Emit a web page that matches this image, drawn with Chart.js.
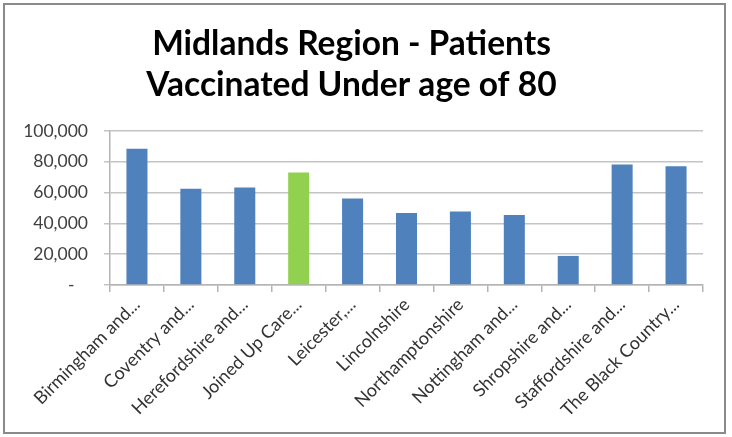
<!DOCTYPE html>
<html>
<head>
<meta charset="utf-8">
<script src="https://cdn.jsdelivr.net/npm/chart.js@4/dist/chart.umd.min.js"></script>
<style>
  body { margin: 0; background: #fff; }
  #wrap { position: relative; width: 732px; height: 437px; }
  #frame { position: absolute; left: 3px; top: 3px; width: 719px; height: 427px;
           border: 2px solid #8a8a8a; pointer-events: none; }
</style>
</head>
<body>
<div id="wrap">
  <canvas id="chart" width="732" height="437"></canvas>
  <div id="frame"></div>
</div>
<script>
const categories = [
    'Birmingham and...', 'Coventry and...', 'Herefordshire and...', 'Joined Up Care...',
    'Leicester,...', 'Lincolnshire', 'Northamptonshire', 'Nottingham and...',
    'Shropshire and...', 'Staffordshire and...', 'The Black Country...'
];
const vaccinated = [88500, 62500, 63400, 73100, 56200, 46800, 47700, 45500, 18900, 78300, 77200];
const barColours = ['#4f81bd', '#4f81bd', '#4f81bd', '#92d050', '#4f81bd', '#4f81bd',
                    '#4f81bd', '#4f81bd', '#4f81bd', '#4f81bd', '#4f81bd'];
const titleLines = ['Midlands Region - Patients', 'Vaccinated Under age of 80'];

const ctx = document.getElementById('chart').getContext('2d');

new Chart(ctx, {
    type: 'bar',
    data: {
        labels: categories,
        datasets: [{
            data: vaccinated,
            backgroundColor: barColours,
            borderWidth: 0,
            barPercentage: 0.39,
            categoryPercentage: 1
        }]
    },
    options: {
        responsive: false,
        animation: false,
        layout: { padding: { left: 0, right: 29, top: 0, bottom: 0 } },
        plugins: {
            legend: { display: false },
            tooltip: { enabled: false },
            title: {
                display: true,
                text: titleLines,
                color: '#000',
                font: { family: 'Lato', size: 33.5, weight: 'bold', lineHeight: 1.21 },
                padding: { top: 24, bottom: 26 }
            }
        },
        scales: {
            x: {
                grid: { drawOnChartArea: false, drawTicks: true, tickLength: 7, color: '#b4b4b4', lineWidth: 1.5 },
                border: { color: '#b4b4b4', width: 1.5 },
                ticks: {
                    color: '#333',
                    font: { family: 'Lato', size: 18 },
                    maxRotation: 45,
                    minRotation: 45,
                    autoSkip: false,
                    padding: 2
                },
                afterFit: function(scale) { scale.height = 152; }
            },
            y: {
                min: 0,
                max: 100000,
                ticks: {
                    stepSize: 20000,
                    color: '#404040',
                    font: { family: 'Lato', size: 17.5 },
                    padding: 16,
                    callback: function(value) {
                        return value === 0 ? '-   ' : value.toLocaleString('en-GB');
                    }
                },
                grid: { color: '#c4c4c4', lineWidth: 1.5, tickLength: 6 },
                border: { color: '#b4b4b4', width: 1.5 },
                afterFit: function(scale) { scale.width = 110; }
            }
        }
    }
});
</script>
</body>
</html>
